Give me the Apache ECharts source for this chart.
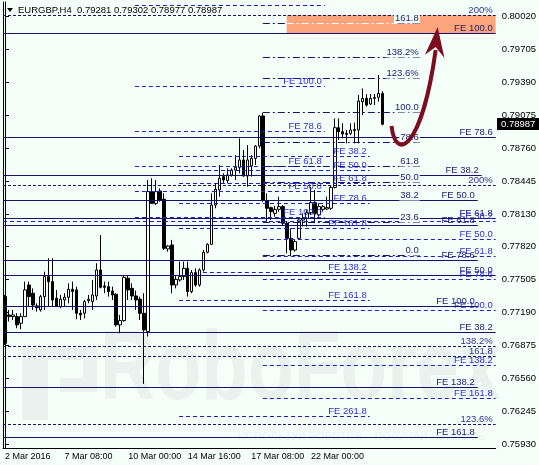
<!DOCTYPE html>
<html>
<head>
<meta charset="utf-8">
<script src="https://cdn.jsdelivr.net/npm/echarts@6/dist/echarts.min.js"></script>
<style>
html, body { margin: 0; padding: 0; background: #f5fffa; }
#chart { width: 539px; height: 465px; }
</style>
</head>
<body>
<div id="chart"></div>
<script>
// EURGBP H4, 2 Mar - 24 Mar 2016, with FE / Fibo objects as drawn on the chart
var symbol = 'EURGBP,H4';
var barCount = 124;   // visible bar slots, right part is empty
// open, close, low, high
var candles = [
  [0.77342,0.76897,0.76881,0.77358],[0.77167,0.77151,0.77103,0.77215],[0.77151,0.77167,0.77119,0.77215],
  [0.77151,0.77072,0.77040,0.77183],[0.77088,0.77151,0.77030,0.77183],[0.77151,0.77406,0.77151,0.77485],
  [0.77453,0.77342,0.77247,0.77485],[0.77374,0.77262,0.77215,0.77421],[0.77253,0.77237,0.77199,0.77278],
  [0.77215,0.77342,0.77199,0.77358],[0.77342,0.77533,0.77215,0.77580],[0.77533,0.77485,0.77247,0.77708],
  [0.77485,0.77310,0.77247,0.77708],[0.77326,0.77247,0.77247,0.77406],[0.77247,0.77317,0.77231,0.77358],
  [0.77310,0.77336,0.77247,0.77374],[0.77336,0.77412,0.77278,0.77469],[0.77412,0.77390,0.77215,0.77485],
  [0.77406,0.77183,0.77126,0.77437],[0.77183,0.77167,0.77119,0.77215],[0.77183,0.77294,0.77135,0.77310],
  [0.77304,0.77317,0.77278,0.77358],[0.77294,0.77358,0.77215,0.77501],[0.77348,0.77596,0.77310,0.77660],
  [0.77596,0.77431,0.77421,0.77930],[0.77444,0.77431,0.77374,0.77485],[0.77437,0.77390,0.77342,0.77485],
  [0.77396,0.77358,0.77310,0.77437],[0.77364,0.77072,0.77056,0.77374],[0.77072,0.77113,0.76992,0.77167],
  [0.77113,0.77526,0.77103,0.77539],[0.77517,0.77406,0.77310,0.77539],[0.77421,0.77348,0.77310,0.77469],
  [0.77348,0.77310,0.77215,0.77399],[0.77317,0.77183,0.77119,0.77342],[0.77183,0.77024,0.76509,0.77374],
  [0.77008,0.78344,0.76960,0.78455],[0.78344,0.78232,0.78226,0.78471],[0.78232,0.78344,0.78216,0.78455],
  [0.78350,0.78264,0.78248,0.78375],[0.78271,0.77803,0.77787,0.78328],[0.77797,0.77825,0.77771,0.77835],
  [0.77835,0.77453,0.77374,0.77883],[0.77453,0.77507,0.77421,0.77549],[0.77501,0.77533,0.77485,0.77676],
  [0.77533,0.77612,0.77501,0.77676],[0.77612,0.77390,0.77342,0.77676],[0.77390,0.77571,0.77374,0.77596],
  [0.77571,0.77453,0.77437,0.77612],[0.77453,0.77596,0.77437,0.77612],[0.77596,0.77765,0.77580,0.77787],
  [0.77765,0.77841,0.77755,0.77851],[0.77841,0.78216,0.77835,0.78328],[0.78216,0.78366,0.78185,0.78423],
  [0.78360,0.78471,0.78296,0.78598],[0.78487,0.78455,0.78423,0.78519],[0.78449,0.78503,0.78423,0.78566],
  [0.78503,0.78550,0.78487,0.78566],[0.78550,0.78576,0.78455,0.78693],[0.78576,0.78646,0.78519,0.78852],
  [0.78646,0.78493,0.78487,0.78741],[0.78493,0.78646,0.78391,0.78789],[0.78589,0.78662,0.78487,0.78693],
  [0.78662,0.78779,0.78598,0.78789],[0.78779,0.79066,0.78757,0.79075],[0.79066,0.78264,0.78248,0.79097],
  [0.78258,0.78185,0.78057,0.78328],[0.78191,0.78153,0.78073,0.78201],[0.78137,0.78175,0.78105,0.78207],
  [0.78175,0.78201,0.78153,0.78296],[0.78201,0.78042,0.78026,0.78216],[0.78042,0.77898,0.77755,0.78057],
  [0.77898,0.77787,0.77730,0.77994],[0.77787,0.77867,0.77771,0.77889],[0.77898,0.78073,0.77883,0.78080],
  [0.78073,0.78089,0.78010,0.78137],[0.78089,0.78143,0.78010,0.78169],[0.78143,0.78239,0.78121,0.78391],
  [0.78239,0.78137,0.78042,0.78360],[0.78121,0.78201,0.78105,0.78232],[0.78175,0.78201,0.78153,0.78216],
  [0.78178,0.78191,0.78169,0.78296],[0.78185,0.78385,0.78169,0.78398],[0.78385,0.78954,0.78375,0.79043],
  [0.78954,0.78916,0.78837,0.79043],[0.78916,0.78894,0.78852,0.78996],[0.78900,0.78891,0.78805,0.78932],
  [0.78900,0.78932,0.78884,0.78996],[0.78926,0.78938,0.78805,0.79002],[0.78932,0.79209,0.78805,0.79266],
  [0.79202,0.79234,0.79075,0.79329],[0.79234,0.79170,0.79155,0.79275],[0.79180,0.79234,0.79170,0.79275],
  [0.79234,0.79244,0.79170,0.79275],[0.79244,0.79281,0.79202,0.79457],[0.79281,0.78987,0.78977,0.79302]
];
var xTickIndex = [0, 15, 31, 46, 62, 77];
var xTickText = ['2 Mar 2016', '7 Mar 08:00', '10 Mar 00:00', '14 Mar 16:00', '17 Mar 08:00', '22 Mar 00:00'];
var yTicks = [0.80020, 0.79705, 0.79390, 0.79075, 0.78760, 0.78445, 0.78130,
              0.77820, 0.77505, 0.77190, 0.76875, 0.76560, 0.76245, 0.75930];
var yMin = 0.75897, yMax = 0.80154;

// horizontal objects: price, first bar, last bar, tool, label
var levelPrice = [0.80130,0.80030,0.79953,0.79953,0.79953,0.79858,0.79629,0.79428,0.79352,0.79104,
                  0.78918,0.78865,0.78817,0.78684,0.78588,0.78588,0.78550,0.78502,0.78436,0.78426,
                  0.78407,0.78350,0.78264,0.78264,0.78235,0.78106,0.78092,0.78063,0.78054,0.78025,
                  0.77997,0.77892,0.77739,0.77729,0.77691,0.77577,0.77548,0.77510,0.77310,0.77252,
                  0.77214,0.77004,0.76870,0.76775,0.76689,0.76479,0.76374,0.76202,0.76126,0.76002];
var levelFrom  = [32.7,-0.5,64.9,70.9,98.8,-0.5,64.9,64.9,32.7,64.9,
                  32.7,-0.5,64.9,43.8,32.7,64.9,43.8,-0.5,64.9,43.8,
                  -0.5,32.7,-0.5,64.9,43.8,32.7,-0.5,-0.5,64.9,-0.5,
                  43.8,64.9,64.9,64.9,-0.5,49.8,-0.5,64.9,43.8,-0.5,
                  64.9,-0.5,-0.5,-0.5,64.9,-0.5,64.9,43.8,-0.5,-0.5];
var levelTo    = [80.5,123.5,70.9,98.8,104.9,123.5,104.9,104.9,80.5,104.9,
                  80.5,123.5,104.9,91.8,80.5,104.9,91.8,120.0,104.9,91.8,
                  123.5,80.5,119.0,104.9,91.8,80.5,123.5,123.5,104.9,119.0,
                  91.8,123.5,104.9,123.5,119.0,91.8,123.5,123.5,91.8,119.0,
                  123.5,123.5,123.5,123.5,123.5,119.0,123.5,91.8,123.5,119.0];
var levelTool  = ['feB','ext','fibo','fiboZ','fibo','feA','fibo','fibo','feB','fibo',
                  'feB','feA','fibo','feB','feB','fibo','feB','feA','fibo','feB',
                  'ext','feB','feA','fibo','feB','feB','feA','feB','fibo','feA',
                  'feB','feB','fibo','feB','feA','feB','feA','feB','feB','feA',
                  'feB','feA','ext','ext','feB','feA','feB','feB','ext','feA'];
var levelText  = ['','200%','','','161.8','FE 100.0','138.2%','123.6%','FE 100.0','100.0',
                  'FE 78.6','FE 78.6','78.6','FE 38.2','FE 61.8','61.8','FE 50.0','FE 38.2','50.0','FE 61.8',
                  '200%','FE 50.0','FE 50.0','38.2','FE 78.6','FE 100.0','FE 61.8','FE 38.2','23.6','FE 61.8',
                  'FE 161.8','FE 50.0','0.0','FE 61.8','FE 78.6','FE 138.2','FE 50.0','FE 78.6','FE 161.8','FE 100.0',
                  'FE 100.0','FE 38.2','138.2%','161.8','FE 138.2','FE 138.2','FE 161.8','FE 261.8','123.6%','FE 161.8'];

// target zone (rectangle)
var zoneFrom = [70.9], zoneTo = [123.5], zoneTop = [0.80030], zoneBottom = [0.79858];

var BG = '#f5fffa';
var FONT = '9.5px "Liberation Sans", Arial, sans-serif';
var WM = '#e9f2ef';
var toolStyle = {
  feA:   { color: '#14146c', dash: null,         text: '#1a1a70' },
  feB:   { color: '#1e1ecc', dash: [4, 3],       text: '#3030d4' },
  ext:   { color: '#14146c', dash: [3, 2],       text: '#2e2e96' },
  fibo:  { color: '#14146c', dash: [7, 3, 2, 3], text: '#1a1a70', bg: BG },
  fiboZ: { color: '#ffffff', dash: [7, 3, 2, 3], text: '#1a1a70' }
};

var cats = [];
for (var i = 0; i < barCount; i++) cats.push(String(i));
var tickLabel = {};
xTickIndex.forEach(function (idx, k) { tickLabel[idx] = xTickText[k]; });

var last = candles[candles.length - 1];
var header = symbol + '  ' + [last[0], last[3], last[2], last[1]].map(function (v) { return v.toFixed(5); }).join(' ');

var chart = echarts.init(document.getElementById('chart'));

var option = {
  animation: false,
  backgroundColor: BG,
  grid: { left: 3, right: 43, top: 2, bottom: 17, containLabel: false },
  xAxis: [{
    type: 'category',
    data: cats,
    boundaryGap: true,
    axisLine: { lineStyle: { color: '#000', width: 1 } },
    axisTick: {
      alignWithLabel: true, length: 4, lineStyle: { color: '#000' },
      interval: function (index) { return tickLabel[index] !== undefined; }
    },
    axisLabel: {
      interval: function (index) { return tickLabel[index] !== undefined; },
      formatter: function (v) { return tickLabel[+v] || ''; },
      align: 'left', margin: 4, color: '#000',
      fontSize: 9, fontFamily: '"Liberation Sans", Arial, sans-serif'
    },
    splitLine: { show: false }
  }, {
    type: 'value', min: -0.5, max: barCount - 0.5, show: false
  }],
  yAxis: [{
    type: 'value', position: 'right', min: yMin, max: yMax,
    axisLine: { show: true, lineStyle: { color: '#000' } },
    axisTick: { show: true, customValues: yTicks, length: 4, lineStyle: { color: '#000' } },
    axisLabel: {
      customValues: yTicks, margin: 6, color: '#000',
      fontSize: 9.5, fontFamily: '"Liberation Sans", Arial, sans-serif',
      formatter: function (v) { return v.toFixed(5); }
    },
    splitLine: { show: false }
  }, {
    type: 'value', position: 'left', min: yMin, max: yMax,
    axisLine: { show: true, lineStyle: { color: '#000' } },
    axisTick: { show: false }, axisLabel: { show: false }, splitLine: { show: false }
  }],
  series: [{
    // target zone
    type: 'custom', xAxisIndex: 1, yAxisIndex: 0, z: 1, clip: false,
    data: zoneFrom.map(function (f, k) { return [f, zoneTop[k]]; }),
    renderItem: function (params, api) {
      var k = params.dataIndex;
      var a = api.coord([zoneFrom[k], zoneTop[k]]);
      var b = api.coord([zoneTo[k], zoneBottom[k]]);
      return { type: 'rect', shape: { x: a[0], y: a[1], width: b[0] - a[0], height: b[1] - a[1] },
               style: { fill: '#fca57c' } };
    }
  }, {
    type: 'candlestick', xAxisIndex: 0, yAxisIndex: 0, z: 2,
    data: candles, barWidth: 3,
    itemStyle: { color: '#ffffff', color0: '#000000', borderColor: '#000000', borderColor0: '#000000', borderWidth: 1 }
  }, {
    // FE / Fibo levels with their labels
    type: 'custom', xAxisIndex: 1, yAxisIndex: 0, z: 3, clip: false,
    data: levelPrice.map(function (p, k) { return [levelFrom[k], p]; }),
    renderItem: function (params, api) {
      var k = params.dataIndex;
      var st = toolStyle[levelTool[k]];
      var a = api.coord([levelFrom[k], levelPrice[k]]);
      var b = api.coord([levelTo[k], levelPrice[k]]);
      var y = Math.round(a[1]) + 0.5;
      var kids = [{
        type: 'line', shape: { x1: a[0], y1: y, x2: b[0], y2: y },
        style: { stroke: st.color, lineWidth: 1, lineDash: st.dash }
      }];
      if (levelText[k]) {
        kids.push({
          type: 'text', x: b[0] - 2, y: y,
          style: { text: levelText[k], fill: st.text, font: FONT, align: 'right', verticalAlign: 'bottom',
                   backgroundColor: st.bg || 'transparent', padding: [0, 1, 0, 1] }
        });
      }
      return { type: 'group', children: kids };
    }
  }]
};
chart.setOption(option);

// pixel helpers via the chart's own scales
function px(bar, price) { return chart.convertToPixel({ xAxisIndex: 1, yAxisIndex: 0 }, [bar, price]); }

var p0 = px(97.3, 0.78970), c1 = px(98.3, 0.78626), c2 = px(104.9, 0.78741), p3 = px(108.4, 0.79695);
var tip = px(108.9, 0.79915), wl = px(105.7, 0.79650), nt = px(108.4, 0.79724), wr = px(110.6, 0.79620);
var yLast = Math.round(px(0, last[1])[1]);

chart.setOption({
  graphic: [
    // watermark
    { type: 'text', x: 100, y: 421, z: 0, scaleY: 1.3,
      style: { text: 'RoboForex', font: 'bold 76px "Liberation Sans", Arial, sans-serif', fill: WM, verticalAlign: 'bottom' } },
    { type: 'rect', z: 0, shape: { x: 22, y: 346, width: 26, height: 74 }, style: { fill: WM } },
    { type: 'rect', z: 0, shape: { x: 48, y: 346, width: 49, height: 14 }, style: { fill: WM } },
    { type: 'rect', z: 0, shape: { x: 83, y: 346, width: 14, height: 46 }, style: { fill: WM } },
    { type: 'rect', z: 0, shape: { x: 60, y: 378, width: 37, height: 14 }, style: { fill: WM } },
    { type: 'text', x: 238, y: 437, z: 0,
      style: { text: 'ИСПОЛЬЗУЙ РОБОТОВ – ПОЛУЧАЙ ПРИБЫЛЬ', font: '11px "Liberation Sans", Arial, sans-serif', fill: WM, verticalAlign: 'middle' } },
    // header
    { type: 'polygon', z: 50, shape: { points: [[7, 8], [13, 8], [10, 12]] }, style: { fill: '#000' } },
    { type: 'text', x: 18, y: 10, z: 50,
      style: { text: header, font: FONT, fill: '#000', verticalAlign: 'middle' } },
    // last price tag
    { type: 'rect', z: 50, shape: { x: 497, y: yLast - 6, width: 42, height: 12 }, style: { fill: '#000' } },
    { type: 'text', x: 501, y: yLast, z: 51,
      style: { text: last[1].toFixed(5), font: FONT, fill: '#fff', verticalAlign: 'middle' } },
    // forecast arrow
    { type: 'bezierCurve', z: 60,
      shape: { x1: p0[0], y1: p0[1], cpx1: c1[0], cpy1: c1[1], cpx2: c2[0], cpy2: c2[1], x2: p3[0], y2: p3[1] },
      style: { stroke: '#7e0c20', lineWidth: 4, fill: null } },
    { type: 'polygon', z: 61, shape: { points: [tip, wr, nt, wl] }, style: { fill: '#7e0c20' } }
  ]
});
</script>
</body>
</html>
